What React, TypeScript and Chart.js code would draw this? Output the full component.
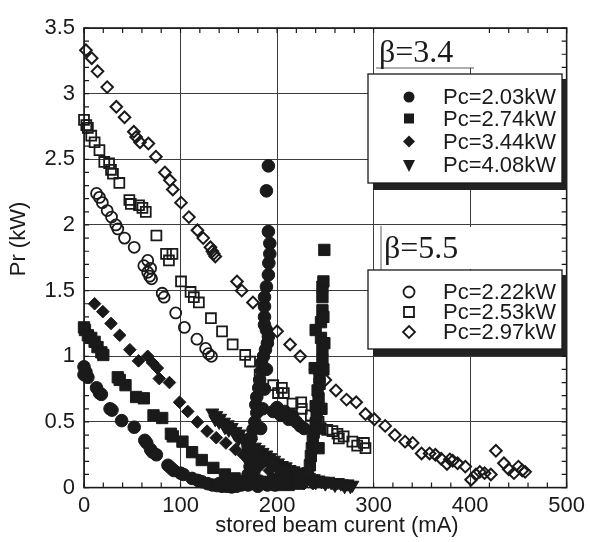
import React, { useEffect, useRef } from 'react';
import { Chart, registerables } from 'chart.js';

Chart.register(...registerables);

type P = [number, number];

// ---------- data (mA, kW) ----------
const xTickValues = [0, 100, 200, 300, 400, 500];
const yTickValues = [0, 0.5, 1, 1.5, 2, 2.5, 3, 3.5];

const legend34 = ['Pc=2.03kW', 'Pc=2.74kW', 'Pc=3.44kW', 'Pc=4.08kW'];
const legend55 = ['Pc=2.22kW', 'Pc=2.53kW', 'Pc=2.97kW'];
const betaLabels = ['\u03B2=3.4', '\u03B2=5.5'];
const xTitle = 'stored beam curent (mA)';
const yTitle = 'Pr (kW)';

// beta = 3.4
const filledCircle203: P[] = [
  [0, 0.92], [0, 0.86], [2, 0.88], [4, 0.84], [13, 0.76], [16, 0.72], [18, 0.71], [27, 0.6], [29, 0.59],
  [39, 0.51], [52, 0.46], [63, 0.36], [65, 0.34], [69, 0.29], [71, 0.27], [75, 0.25], [87, 0.17], [90, 0.15],
  [93, 0.13], [100, 0.11], [103, 0.1], [112, 0.07], [118, 0.055], [122, 0.045], [128, 0.03], [133, 0.02],
  [138, 0.015], [143, 0.01], [148, 0.01], [153, 0.005], [158, 0.01], [163, 0.02], [167, 0.05], [170, 0.1],
  [172, 0.16], [171, 0.22], [170, 0.31], [173, 0.38], [175, 0.44], [177, 0.5], [179, 0.57], [178, 0.63],
  [179, 0.69], [181, 0.76], [182, 0.82], [184, 0.89], [184, 0.95], [186, 1.0], [188, 1.05], [190, 1.1],
  [191, 1.15], [189, 1.2], [187, 1.24], [187, 1.3], [187, 1.38], [187, 1.45], [189, 1.53], [191, 1.62],
  [191.5, 1.71], [192.5, 1.78], [192.5, 1.86], [191, 1.95], [189, 2.26], [191, 2.45],
  [196, 0.58], [200, 0.61], [204, 0.55], [208, 0.58], [212, 0.52], [216, 0.55], [220, 0.5], [224, 0.47], [228, 0.45],
  [176, 0.03], [182, 0.05], [188, 0.04], [195, 0.06], [203, 0.05], [176, 0.12], [180, 0.2], [178, 0.28],
  [183, 0.45], [185, 0.6], [187, 0.75], [189, 0.9], [140, 0.03], [150, 0.025], [160, 0.03], [170, 0.02],
  [180, 0.01], [190, 0.02], [198, 0.02], [210, 0.03],
];
const filledSquare274: P[] = [
  [0, 1.22], [1, 1.2], [4, 1.16], [7.5, 1.14], [11, 1.11], [14, 1.07], [18, 1.03], [20, 1.01], [35, 0.84],
  [37, 0.82], [43, 0.78], [54, 0.69], [62, 0.68], [72, 0.55], [81, 0.53], [90, 0.41], [92, 0.39], [102, 0.35],
  [112, 0.27], [122, 0.21], [134, 0.15], [146, 0.1], [156, 0.07], [166, 0.05], [176, 0.04], [186, 0.03],
  [196, 0.03], [206, 0.04], [214, 0.05], [222, 0.07], [228, 0.09], [232, 0.11], [234, 0.17], [235, 0.24],
  [236, 0.3], [237, 0.36], [238, 0.42], [240, 0.49], [241, 0.55], [240, 0.62], [243, 0.68], [242, 0.74],
  [244, 0.79], [244, 0.84], [239, 0.91], [247, 0.97], [247, 1.05], [245.5, 1.14], [240, 1.2], [245.5, 1.26],
  [247, 1.35], [247, 1.45], [247, 1.53], [248, 1.57], [249, 1.81],
  [243, 0.3], [245, 0.45], [246, 0.6], [248, 0.9], [249, 1.1], [248, 1.3], [200, 0.02], [212, 0.02], [222, 0.03],
];
const filledDiamond344: P[] = [
  [11, 1.4], [19.5, 1.34], [28, 1.25], [37, 1.16], [47.5, 1.05], [56.5, 0.965], [66, 1.0], [71, 0.95],
  [76, 0.91], [78, 0.83], [88.5, 0.8], [99, 0.65], [107.5, 0.58], [117.5, 0.5], [127.5, 0.43], [137, 0.38],
  [147, 0.34], [157, 0.29], [165, 0.25], [174, 0.21], [183, 0.17], [192, 0.13], [201, 0.09], [210, 0.06],
  [219, 0.04], [228, 0.03], [237, 0.03], [246, 0.04],
];
const filledTriangle408: P[] = [
  [133, 0.57], [137, 0.55], [141, 0.53], [145, 0.5], [149, 0.48], [153, 0.46], [157, 0.43], [161, 0.41],
  [165, 0.38], [169, 0.36], [173, 0.34], [177, 0.31], [181, 0.29], [185, 0.27], [189, 0.25], [193, 0.23],
  [197, 0.21], [201, 0.19], [205, 0.17], [209, 0.16], [213, 0.14], [217, 0.13], [221, 0.12], [225, 0.1],
  [229, 0.09], [233, 0.08], [238, 0.07], [243, 0.06], [248, 0.05], [253, 0.05], [258, 0.04], [263, 0.04],
  [268, 0.03], [273, 0.03], [278, 0.02],
  [140, 0.5], [150, 0.44], [160, 0.37], [170, 0.31], [180, 0.25], [190, 0.2], [200, 0.15], [210, 0.12],
  [220, 0.09], [230, 0.06], [240, 0.04], [250, 0.03], [260, 0.02], [270, 0.01],
  [136, 0.52], [146, 0.46], [156, 0.41], [166, 0.35], [176, 0.28], [186, 0.22], [196, 0.18], [206, 0.14],
  [216, 0.1], [226, 0.08], [236, 0.06], [246, 0.05], [256, 0.04], [266, 0.03], [276, 0.01],
];

// beta = 5.5
const openCircle222: P[] = [
  [13, 2.24], [16, 2.21], [19, 2.17], [24, 2.11], [28.5, 2.06], [33, 2.0], [35, 1.97], [42, 1.9], [52, 1.83],
  [62, 1.69], [66, 1.73], [66, 1.64], [68, 1.61], [70, 1.59], [69, 1.67], [81, 1.48], [83, 1.45], [95, 1.33],
  [104, 1.22], [117, 1.13], [126, 1.06], [129, 1.02], [132, 1.0],
];
const openSquare253: P[] = [
  [0, 2.8], [2.4, 2.76], [4, 2.74], [7.5, 2.68], [11, 2.63], [16, 2.57], [21, 2.48], [26, 2.47], [28, 2.42],
  [30, 2.39], [36.6, 2.32], [47, 2.19], [48.5, 2.16], [57, 2.15], [60.5, 2.13], [64, 2.1], [75, 1.92],
  [85, 1.78], [88, 1.73], [91.6, 1.78], [100.5, 1.57], [110.4, 1.49], [113.8, 1.45], [119, 1.41],
  [131.5, 1.29], [143, 1.19], [154, 1.09], [167, 1.01], [172, 0.96], [182, 0.86], [196, 0.78], [201, 0.72],
  [205, 0.76], [207, 0.72], [216, 0.64], [225, 0.65], [225.6, 0.6], [235, 0.55], [243, 0.5], [252, 0.44],
  [257.4, 0.43], [262.6, 0.41], [264, 0.375], [269, 0.39], [278, 0.35], [283, 0.32], [290, 0.34], [291.6, 0.3],
];
const openDiamond297: P[] = [
  [2, 3.33], [8, 3.27], [14, 3.17], [24, 3.05], [33.5, 2.9], [42, 2.82], [51.6, 2.71], [54, 2.67], [58, 2.63],
  [66.7, 2.62], [74.5, 2.52], [83.8, 2.4], [89, 2.34], [92, 2.27], [100.5, 2.17], [108.7, 2.06], [117.5, 1.96],
  [123.5, 1.9], [131, 1.83], [133, 1.8], [134.4, 1.78], [136, 1.76], [158.5, 1.57], [163.4, 1.5], [175, 1.41],
  [200, 1.19], [213.5, 1.09], [224, 1.0], [240, 0.9], [250, 0.82], [261, 0.74], [272, 0.67], [282, 0.65],
  [291.6, 0.56], [300.8, 0.52], [312, 0.47], [322, 0.4], [332.6, 0.35], [340.5, 0.34], [349.7, 0.26],
  [358, 0.26], [364, 0.25], [370, 0.22], [376, 0.18], [379, 0.215], [382, 0.205], [387, 0.185], [395, 0.16],
  [401, 0.06], [406, 0.1], [410, 0.12], [415, 0.11], [421.5, 0.1], [426.7, 0.28], [435, 0.185], [440, 0.14],
  [445.4, 0.11], [450, 0.16], [454, 0.13], [457, 0.12],
];

const INK = '#1a1a1a';
const SANS = '"Liberation Sans", Arial, Helvetica, sans-serif';
const SERIF = '"Liberation Serif", "Times New Roman", serif';

const toPts = (arr: P[]) => arr.map(([x, y]) => ({ x, y }));

function drawMark(ctx: CanvasRenderingContext2D, kind: string, x: number, y: number, filled: boolean) {
  ctx.beginPath();
  if (kind === 'circle') ctx.arc(x, y, 5.5, 0, Math.PI * 2);
  else if (kind === 'rect') ctx.rect(x - 5, y - 5, 10, 10);
  else if (kind === 'diamond') {
    ctx.moveTo(x, y - 6); ctx.lineTo(x + 6, y); ctx.lineTo(x, y + 6); ctx.lineTo(x - 6, y); ctx.closePath();
  } else {
    ctx.moveTo(x - 6, y - 5); ctx.lineTo(x + 6, y - 5); ctx.lineTo(x, y + 7); ctx.closePath();
  }
  if (filled) { ctx.fillStyle = INK; ctx.fill(); }
  else { ctx.strokeStyle = INK; ctx.lineWidth = 1.8; ctx.stroke(); }
}

const framePlugin = {
  id: 'frameTicks',
  beforeDatasetsDraw(chart: any) {
    const { ctx, chartArea: a, scales } = chart;
    ctx.save();
    ctx.strokeStyle = INK;
    ctx.lineWidth = 1.2;
    ctx.beginPath();
    const minorX = 20;
    for (let v = 0; v <= 500; v += minorX) {
      const px = scales.x.getPixelForValue(v);
      ctx.moveTo(px, a.top); ctx.lineTo(px, a.top + 5);
      ctx.moveTo(px, a.bottom); ctx.lineTo(px, a.bottom - 5);
    }
    for (let i = 0; i <= 35; i++) {
      const py = scales.y.getPixelForValue(i / 10);
      ctx.moveTo(a.left, py); ctx.lineTo(a.left + 5, py);
      ctx.moveTo(a.right, py); ctx.lineTo(a.right - 5, py);
    }
    ctx.stroke();
    ctx.lineWidth = 1.6;
    ctx.strokeRect(a.left, a.top, a.right - a.left, a.bottom - a.top);
    ctx.restore();
  },
  afterDatasetsDraw(chart: any) {
    const { ctx } = chart;
    ctx.save();
    // beta labels
    ctx.fillStyle = '#fff';
    ctx.fillRect(377, 29, 96, 39);
    ctx.strokeStyle = '#333';
    ctx.lineWidth = 0.8;
    ctx.beginPath(); ctx.moveTo(376, 68); ctx.lineTo(474, 68); ctx.stroke();
    ctx.fillStyle = '#fff';
    ctx.fillRect(381, 227, 92, 42);
    ctx.beginPath(); ctx.moveTo(381, 226); ctx.lineTo(381, 270); ctx.stroke();
    ctx.fillStyle = INK;
    ctx.font = `32px ${SERIF}`;
    ctx.textAlign = 'left';
    ctx.textBaseline = 'alphabetic';
    ctx.fillText(betaLabels[0], 379, 62);
    ctx.fillText(betaLabels[1], 384, 258);

    // legend boxes
    const boxes = [
      { x: 368, y: 74, w: 194, h: 109, rows: [97, 118.5, 141.5, 165], labels: legend34, kinds: ['circle', 'rect', 'diamond', 'tri'], filled: true },
      { x: 368, y: 270, w: 194, h: 79, rows: [292, 312, 332], labels: legend55, kinds: ['circle', 'rect', 'diamond'], filled: false },
    ];
    for (const b of boxes) {
      ctx.fillStyle = '#222';
      ctx.fillRect(b.x + 5, b.y + 5, b.w, b.h + 2);
      ctx.fillStyle = '#fff';
      ctx.fillRect(b.x, b.y, b.w, b.h);
      ctx.strokeStyle = INK;
      ctx.lineWidth = 1.3;
      ctx.strokeRect(b.x, b.y, b.w, b.h);
      b.rows.forEach((ry, i) => {
        drawMark(ctx, b.kinds[i], 409, ry, b.filled);
        ctx.fillStyle = INK;
        ctx.font = `22px ${SANS}`;
        ctx.textBaseline = 'middle';
        ctx.textAlign = 'left';
        ctx.fillText(b.labels[i], 443, ry + 1);
      });
    }

    // axis titles
    ctx.fillStyle = INK;
    ctx.font = `22px ${SANS}`;
    ctx.textAlign = 'center';
    ctx.textBaseline = 'middle';
    ctx.fillText(xTitle, 337, 526);
    ctx.translate(19, 239);
    ctx.rotate(-Math.PI / 2);
    ctx.fillText(yTitle, 0, 0);
    ctx.restore();
  },
};

export default function App() {
  const ref = useRef<HTMLCanvasElement>(null);
  useEffect(() => {
    if (!ref.current) return;
    const openStyle = { backgroundColor: 'rgba(0,0,0,0)', borderColor: INK, borderWidth: 1.8 };
    const fillStyle = { backgroundColor: INK, borderColor: INK, borderWidth: 1 };
    const chart = new Chart(ref.current, {
      type: 'scatter',
      data: {
        datasets: [
          { label: legend55[0], data: toPts(openCircle222), pointStyle: 'circle', pointRadius: 5.5, ...openStyle, clip: false },
          { label: legend55[1], data: toPts(openSquare253), pointStyle: 'rect', pointRadius: 7, ...openStyle, clip: false },
          { label: legend55[2], data: toPts(openDiamond297), pointStyle: 'rectRot', pointRadius: 5.8, ...openStyle, borderWidth: 2, clip: false },
          { label: legend34[0], data: toPts(filledCircle203), pointStyle: 'circle', pointRadius: 6.3, ...fillStyle, clip: false },
          { label: legend34[1], data: toPts(filledSquare274), pointStyle: 'rect', pointRadius: 8, ...fillStyle, clip: false },
          { label: legend34[2], data: toPts(filledDiamond344), pointStyle: 'rectRot', pointRadius: 6.3, ...fillStyle, clip: false },
          { label: legend34[3], data: toPts(filledTriangle408), pointStyle: 'triangle', pointRotation: 180, pointRadius: 7.5, ...fillStyle, clip: false },
        ] as any,
      },
      options: {
        responsive: false,
        animation: false,
        devicePixelRatio: 1,
        events: [],
        layout: { padding: { left: 0, top: 28, right: 18, bottom: 0 } },
        plugins: { legend: { display: false }, tooltip: { enabled: false }, title: { display: false } },
        scales: {
          x: {
            type: 'linear',
            min: 0,
            max: 500,
            afterBuildTicks: (s: any) => { s.ticks = xTickValues.map((v) => ({ value: v })); },
            afterFit: (s: any) => { s.height = 54.4; },
            grid: { color: '#3c3c3c', lineWidth: 1, drawTicks: false },
            border: { display: false },
            ticks: { color: INK, padding: 5, font: { size: 22, family: SANS }, maxRotation: 0, callback: (v: any) => String(v) },
          },
          y: {
            type: 'linear',
            min: 0,
            max: 3.5,
            afterBuildTicks: (s: any) => { s.ticks = yTickValues.map((v) => ({ value: v })); },
            afterFit: (s: any) => { s.width = 84; },
            grid: { color: '#3c3c3c', lineWidth: 1, drawTicks: false },
            border: { display: false },
            ticks: { color: INK, padding: 9, font: { size: 22, family: SANS }, callback: (v: any) => String(v) },
          },
        },
      },
      plugins: [framePlugin],
    } as any);
    return () => chart.destroy();
  }, []);
  return (
    <div style={{ position: 'absolute', left: 0, top: 0, width: 590, height: 542, background: '#fff' }}>
      <canvas ref={ref} width={590} height={542} />
    </div>
  );
}
